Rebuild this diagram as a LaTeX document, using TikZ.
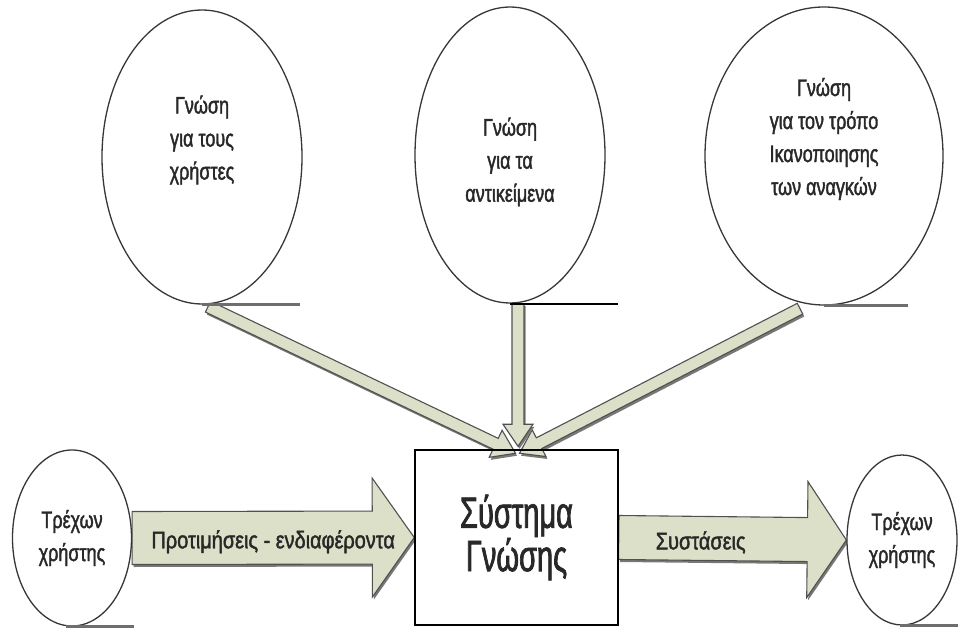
\documentclass[tikz,border=0pt]{standalone}
\usepackage{fontspec}
\setmainfont{Liberation Sans}
\newfontfamily\narr[FakeStretch=0.75,FakeBold=1.6]{Liberation Sans}
\newfontfamily\narrl[FakeStretch=0.83,FakeBold=1.6]{Liberation Sans}
\newfontfamily\narrb[FakeStretch=0.66,FakeBold=1.6]{Liberation Sans}
\usetikzlibrary{shapes.geometric,calc,shadows}
\pgfdeclarelayer{bg}
\pgfsetlayers{bg,main}
\definecolor{arrfill}{RGB}{221,224,200}
\definecolor{arredge}{RGB}{80,80,80}
\definecolor{ellline}{RGB}{55,55,55}
\definecolor{shad}{RGB}{120,120,120}
\definecolor{ulgray}{RGB}{110,110,110}
\definecolor{txt}{RGB}{40,40,40}
\tikzset{
  kell/.style={ellipse, draw=ellline, line width=1.3pt, fill=white, inner sep=0pt,
    align=center, font=\narr\fontsize{24}{33}\selectfont, text=txt},
  arrbody/.style={fill=arrfill, draw=arredge, line width=1.1pt, line join=miter,
    drop shadow={shadow xshift=1.5pt, shadow yshift=-2.5pt, fill=shad, opacity=1}},
  lab/.style={font=\narrl\fontsize{24}{30}\selectfont, text=txt, inner sep=0pt},
  uline/.style={draw=ulgray, line width=3pt},
  ulineb/.style={draw=black, line width=2pt},
}
% #1 start, #2 tip, #3 shaft half width, #4 head half width, #5 head length
\newcommand\blockarr[5]{%
  \coordinate (bah) at ($(#2)!#5!(#1)$);
  \path[arrbody] ($(#1)!#3!90:(#2)$) -- ($(bah)!#3!90:(#2)$) -- ($(bah)!#4!90:(#2)$)
    -- (#2) -- ($(bah)!#4!-90:(#2)$) -- ($(bah)!#3!-90:(#2)$) -- ($(#1)!#3!-90:(#2)$) -- cycle;
}
\begin{document}
\begin{tikzpicture}[x=1pt,y=-1pt]
\useasboundingbox (0,0) rectangle (958,628);
% knowledge ellipses
\node[kell, minimum width=200pt, minimum height=294pt] (k1) at (202,157) {Γνώση\\για τους\\χρήστες\\[6pt]};
\node[kell, minimum width=190pt, minimum height=296pt] (k2) at (510,155) {\rule{0pt}{32pt}Γνώση\\για τα\\αντικείμενα};
\node[kell, minimum width=238pt, minimum height=298pt] (k3) at (824,156) {Γνώση\\για τον τρόπο\\Ικανοποιησης\\των αναγκών\\[6pt]};
% users
\node[kell, minimum width=119pt, minimum height=176pt] (u1) at (72,538) {Τρέχων\\χρήστης};
\node[kell, minimum width=110pt, minimum height=170pt] (u2) at (902,540) {Τρέχων\\χρήστης};
% system box
\node[draw=black, line width=1.5pt, minimum width=203pt, minimum height=175pt, inner sep=0pt,
      align=center, font=\narrb\fontsize{44}{40}\selectfont, text=txt] (sys) at (516.5,537.5) {Σύστημα\\Γνώσης};
% underlines
\draw[uline] (k1.south) -- ++(98,0);
\draw[ulineb] (k2.south) -- ++(108,0);
\draw[uline] (k3.south) -- ++(84,0);
\draw[uline] ($(u1.south)+(-6,0)$) -- ++(68,0);
\draw[uline] ($(u2.south)+(-2,0)$) -- ++(60,0);
% arrows
\coordinate (tipM) at ($(sys.north)+(1.5,-3)$);
\coordinate (tipL) at ($(sys.north)+(-1,4)$);
\coordinate (tipR) at ($(sys.north)+(3,4)$);
\coordinate (sL) at ($(k1.south)+(6,2)$);
\coordinate (sM) at ($(k2.south)+(8,0)$);
\coordinate (sR) at ($(k3.south)+(-24,3)$);
\begin{pgfonlayer}{bg}
\blockarr{sL}{tipL}{6pt}{15pt}{22pt}
\blockarr{sR}{tipR}{6pt}{15pt}{22pt}
\blockarr{sM}{tipM}{6pt}{15pt}{22pt}
\blockarr{u1.east}{sys.west}{26.5pt}{59.5pt}{42pt}
\blockarr{sys.east}{u2.west}{22pt}{58pt}{39pt}
\end{pgfonlayer}
% arrow labels
\node[lab, yshift=-4pt] (l1) at ($(u1.east)!0.5!(sys.west)$) {Προτιμήσεις - ενδιαφέροντα};
\node[lab, yshift=-4pt] (l2) at ($(sys.east)!0.36!(u2.west)$) {Συστάσεις};
\end{tikzpicture}
\end{document}
